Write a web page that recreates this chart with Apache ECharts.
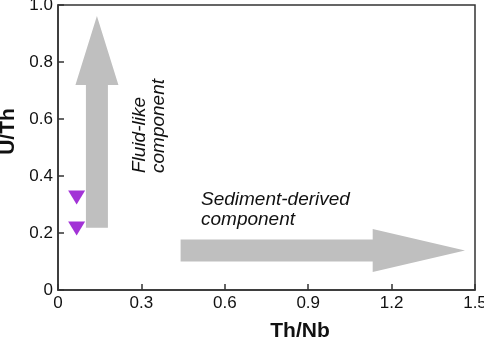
<!DOCTYPE html>
<html>
<head>
<meta charset="utf-8">
<script src="https://cdn.jsdelivr.net/npm/echarts@6/dist/echarts.min.js"></script>
<style>
  html, body { margin: 0; padding: 0; background: #fff; }
  #chart { width: 484px; height: 341px; }
</style>
</head>
<body>
<div id="chart"></div>
<script>
// sample points (Th/Nb, U/Th)
const samplePoints = [[0.067, 0.325], [0.067, 0.216]]
const xTicks = [0, 0.3, 0.6, 0.9, 1.2, 1.5]
const yTicks = [0, 0.2, 0.4, 0.6, 0.8, 1.0]
// arrows: tail x, tail y, head base x, head base y, tip x, tip y
const arrows = [
  [0.14, 0.218, 0.14, 0.719, 0.14, 0.961],
  [0.441, 0.139, 1.132, 0.139, 1.464, 0.139]
]

const font = 'Liberation Sans, Arial, sans-serif'
const chart = echarts.init(document.getElementById('chart'))

function renderArrow (params, api) {
  const t = api.coord([api.value(0), api.value(1)])
  const b = api.coord([api.value(2), api.value(3)])
  const p = api.coord([api.value(4), api.value(5)])
  const len = Math.hypot(p[0] - t[0], p[1] - t[1])
  const dx = (p[0] - t[0]) / len
  const dy = (p[1] - t[1]) / len
  const nx = -dy
  const ny = dx
  const s = 11
  const h = 21.5
  const pts = [
    [t[0] + nx * s, t[1] + ny * s],
    [b[0] + nx * s, b[1] + ny * s],
    [b[0] + nx * h, b[1] + ny * h],
    p,
    [b[0] - nx * h, b[1] - ny * h],
    [b[0] - nx * s, b[1] - ny * s],
    [t[0] - nx * s, t[1] - ny * s]
  ]
  return {
    type: 'polygon',
    shape: { points: pts },
    style: { fill: '#bfbfbf' }
  }
}

const option = {
  animation: false,
  grid: {
    left: 58,
    right: 9,
    top: 5,
    bottom: 51,
    outerBoundsMode: 'none',
    containLabel: false,
    show: true,
    borderColor: '#333',
    borderWidth: 1.5
  },
  xAxis: {
    type: 'value',
    min: 0,
    max: 1.5,
    interval: 0.3,
    name: 'Th/Nb',
    nameLocation: 'middle',
    nameGap: 31,
    nameTextStyle: { fontFamily: font, fontSize: 21, fontWeight: 'bold', color: '#111', padding: [0, 0, 0, 67] },
    axisLine: { lineStyle: { color: '#333', width: 1.5 } },
    axisTick: { inside: true, length: 6, lineStyle: { color: '#333', width: 1.5 } },
    axisLabel: {
      fontFamily: font, fontSize: 17, color: '#111', margin: 5,
      formatter: function (v) { return v === xTicks[0] ? '0' : v.toFixed(1) }
    },
    splitLine: { show: false }
  },
  yAxis: {
    type: 'value',
    min: 0,
    max: 1.0,
    interval: 0.2,
    name: 'U/Th',
    nameLocation: 'middle',
    nameGap: 35,
    nameTextStyle: { fontFamily: font, fontSize: 21, fontWeight: 'bold', color: '#111', padding: [0, 0, 0, 32] },
    axisLine: { lineStyle: { color: '#333', width: 1.5 } },
    axisTick: { inside: true, length: 6, lineStyle: { color: '#333', width: 1.5 } },
    axisLabel: {
      fontFamily: font, fontSize: 17, color: '#111', margin: 5,
      formatter: function (v) { return v === yTicks[0] ? '0' : v.toFixed(1) }
    },
    splitLine: { show: false }
  },
  series: [
    {
      type: 'custom',
      renderItem: renderArrow,
      encode: { x: [0, 2, 4], y: [1, 3, 5] },
      data: arrows,
      silent: true,
      z: 1
    },
    {
      type: 'scatter',
      data: samplePoints,
      symbol: 'triangle',
      symbolRotate: 180,
      symbolSize: [17, 14],
      itemStyle: { color: '#8b00cc' },
      z: 3
    }
  ],
  graphic: [
    {
      type: 'text',
      x: 149,
      y: 173,
      rotation: Math.PI / 2,
      style: {
        text: 'Fluid-like\ncomponent',
        fontFamily: font,
        fontSize: 19,
        fontStyle: 'italic',
        lineHeight: 19,
        fill: '#111',
        align: 'left',
        verticalAlign: 'middle'
      }
    },
    {
      type: 'text',
      x: 201,
      y: 190,
      style: {
        text: 'Sediment-derived\ncomponent',
        fontFamily: font,
        fontSize: 19,
        fontStyle: 'italic',
        lineHeight: 20,
        fill: '#111',
        align: 'left',
        verticalAlign: 'top'
      }
    }
  ]
}
chart.setOption(option)
</script>
</body>
</html>
